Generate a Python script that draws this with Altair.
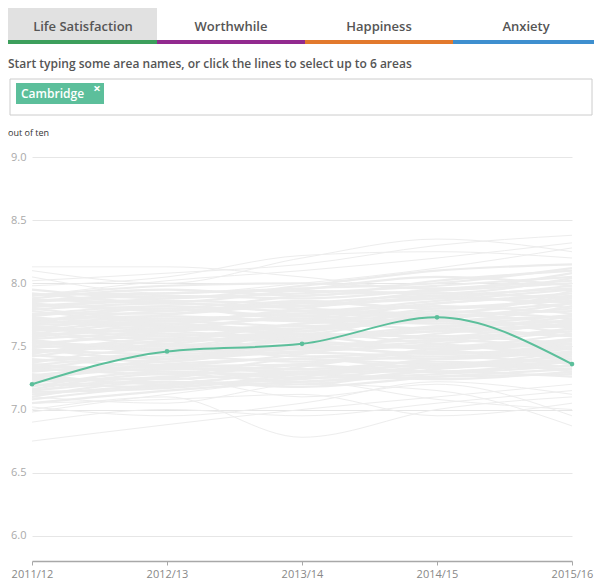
import altair as alt
import pandas as pd

years = ["2011/12", "2012/13", "2013/14", "2014/15", "2015/16"]
cambridge = [7.20, 7.46, 7.52, 7.73, 7.36]
y_ticks = [6.0, 6.5, 7.0, 7.5, 8.0, 8.5, 9.0]
tabs = ["Life Satisfaction", "Worthwhile", "Happiness", "Anxiety"]
tab_colors = ["#3d9f5c", "#922a8f", "#e2792d", "#3e8fcf"]

# areas inside the dense band
band_values = [
    [7.45, 7.52, 7.60, 7.58, 7.62], [7.62, 7.70, 7.66, 7.74, 7.78],
    [7.30, 7.38, 7.45, 7.42, 7.50], [7.55, 7.48, 7.56, 7.62, 7.58],
    [7.70, 7.78, 7.82, 7.88, 7.85], [7.80, 7.72, 7.76, 7.84, 7.92],
    [7.25, 7.32, 7.30, 7.40, 7.45], [7.38, 7.45, 7.50, 7.55, 7.48],
    [7.50, 7.60, 7.55, 7.65, 7.70], [7.65, 7.58, 7.68, 7.72, 7.80],
    [7.85, 7.90, 7.88, 7.95, 8.02], [7.92, 7.85, 7.95, 8.05, 7.98],
    [7.15, 7.25, 7.35, 7.30, 7.40], [7.20, 7.18, 7.28, 7.35, 7.32],
    [7.35, 7.42, 7.38, 7.48, 7.55], [7.42, 7.55, 7.62, 7.70, 7.65],
    [7.58, 7.65, 7.72, 7.68, 7.75], [7.75, 7.82, 7.78, 7.86, 7.95],
    [7.68, 7.75, 7.85, 7.80, 7.88], [7.10, 7.22, 7.20, 7.32, 7.38],
    [7.28, 7.20, 7.34, 7.45, 7.42], [7.48, 7.40, 7.52, 7.50, 7.60],
    [7.60, 7.68, 7.62, 7.78, 7.72], [7.72, 7.64, 7.74, 7.70, 7.82],
    [7.82, 7.88, 7.92, 7.98, 8.05], [7.88, 7.95, 7.90, 8.02, 8.10],
    [7.40, 7.35, 7.44, 7.58, 7.52], [7.52, 7.58, 7.48, 7.60, 7.68],
    [7.33, 7.28, 7.40, 7.36, 7.46], [7.64, 7.72, 7.70, 7.64, 7.74],
    [7.78, 7.70, 7.80, 7.92, 7.88], [7.18, 7.30, 7.25, 7.28, 7.35],
    [7.56, 7.62, 7.66, 7.56, 7.64], [7.46, 7.50, 7.42, 7.46, 7.56],
    [7.90, 7.98, 8.00, 7.96, 8.08], [7.95, 7.88, 7.98, 8.10, 8.15],
    [7.05, 7.15, 7.22, 7.26, 7.28], [7.22, 7.35, 7.32, 7.38, 7.30],
    [7.36, 7.30, 7.28, 7.34, 7.40], [7.66, 7.60, 7.58, 7.66, 7.70],
    [7.74, 7.80, 7.74, 7.82, 7.76], [7.84, 7.78, 7.86, 7.80, 7.90],
    [7.54, 7.46, 7.60, 7.52, 7.44], [7.44, 7.56, 7.54, 7.64, 7.58],
    [7.26, 7.40, 7.46, 7.52, 7.62], [7.60, 7.52, 7.50, 7.44, 7.52],
    [7.70, 7.66, 7.60, 7.75, 7.68], [7.32, 7.46, 7.58, 7.48, 7.54],
    [7.12, 7.20, 7.28, 7.24, 7.30], [7.16, 7.28, 7.22, 7.30, 7.26],
    [7.22, 7.26, 7.36, 7.42, 7.36], [7.27, 7.36, 7.40, 7.33, 7.44],
    [7.34, 7.33, 7.32, 7.40, 7.48], [7.39, 7.42, 7.46, 7.50, 7.42],
    [7.43, 7.38, 7.50, 7.44, 7.50], [7.49, 7.54, 7.58, 7.62, 7.66],
    [7.53, 7.50, 7.64, 7.70, 7.60], [7.57, 7.66, 7.60, 7.58, 7.72],
    [7.61, 7.56, 7.68, 7.76, 7.84], [7.67, 7.70, 7.76, 7.72, 7.66],
    [7.71, 7.74, 7.70, 7.80, 7.86], [7.76, 7.76, 7.84, 7.90, 7.80],
    [7.79, 7.84, 7.80, 7.76, 7.94], [7.83, 7.80, 7.90, 7.94, 8.00],
    [7.87, 7.84, 7.82, 7.90, 7.96], [7.91, 7.92, 7.96, 8.00, 8.12],
    [7.14, 7.17, 7.26, 7.36, 7.34], [7.24, 7.24, 7.30, 7.30, 7.38],
    [7.31, 7.34, 7.36, 7.46, 7.40], [7.37, 7.48, 7.42, 7.40, 7.46],
    [7.47, 7.44, 7.48, 7.54, 7.64], [7.51, 7.47, 7.54, 7.48, 7.52],
    [7.59, 7.63, 7.64, 7.70, 7.74], [7.63, 7.62, 7.56, 7.62, 7.68],
    [7.69, 7.80, 7.72, 7.84, 7.90], [7.73, 7.68, 7.78, 7.74, 7.84],
    [7.81, 7.86, 7.84, 7.88, 7.98], [7.86, 7.92, 7.94, 7.92, 8.04],
    [7.08, 7.19, 7.24, 7.34, 7.42], [7.19, 7.22, 7.18, 7.26, 7.32],
]

# areas outside the dense band
outlier_values = [
    [8.13, 8.13, 8.05, 7.95, 8.00], [8.10, 8.00, 8.20, 8.35, 8.25],
    [8.02, 8.08, 8.15, 8.30, 8.38], [7.98, 8.05, 8.22, 8.25, 8.20],
    [7.90, 8.02, 8.10, 8.20, 8.32], [8.05, 7.92, 8.00, 8.12, 8.28],
    [6.75, 6.88, 7.00, 7.10, 7.20], [6.90, 7.00, 6.95, 7.05, 7.15],
    [7.00, 7.10, 6.78, 7.00, 7.10], [7.05, 7.08, 7.12, 6.95, 7.05],
    [7.10, 7.05, 7.20, 7.15, 6.87], [7.15, 7.25, 7.10, 7.20, 6.95],
    [7.02, 6.95, 7.05, 7.22, 7.12], [6.98, 7.12, 7.22, 7.08, 7.00],
]


def long_form(series, prefix):
    rows = []
    for i, vals in enumerate(series):
        for yr, v in zip(years, vals):
            rows.append({"area": f"{prefix}{i}", "year": yr, "value": v})
    return pd.DataFrame(rows)


band = long_form(band_values, "b")
outl = long_form(outlier_values, "o")
cam = pd.DataFrame({"year": years, "value": cambridge})

FONT = "Open Sans"

x_enc = alt.X(
    "year:O", sort=years, scale=alt.Scale(padding=0),
    axis=alt.Axis(title=None, labelAngle=0, grid=False, domainColor="#a8a8a8",
                  domainWidth=1.5, tickColor="#a8a8a8", tickSize=4,
                  labelColor="#888", labelFontSize=11, labelFont=FONT,
                  labelPadding=3, labelOverlap=False),
)
y_enc = alt.Y(
    "value:Q", scale=alt.Scale(domain=[5.8, 9.0], nice=False, zero=False),
    axis=alt.Axis(title=None, values=y_ticks, format=".1f", domain=False,
                  ticks=False, grid=True, gridColor="#e6e6e6",
                  labelColor="#aaa", labelFontSize=11, labelFont=FONT,
                  labelPadding=6),
)

outl_layer = alt.Chart(outl).mark_line(interpolate="monotone", color="#ededed",
                                       strokeWidth=1).encode(
    x=x_enc, y=y_enc, detail="area:N")
band_layer = alt.Chart(band).mark_line(interpolate="monotone", color="#ececec",
                                       strokeWidth=2.2).encode(
    x="year:O", y="value:Q", detail="area:N")
cam_line = alt.Chart(cam).mark_line(interpolate="monotone", color="#5cbf9b",
                                    strokeWidth=2).encode(x="year:O", y="value:Q")
cam_pts = alt.Chart(cam).mark_point(filled=True, color="#5cbf9b", size=22,
                                    opacity=1).encode(x="year:O", y="value:Q")

one = alt.Data(values=[{}])


def rect(x1, x2, y1, y2, fill, stroke=None):
    kw = {"fill": fill}
    if stroke:
        kw["stroke"] = stroke
        kw["strokeWidth"] = 1
    return alt.Chart(one).mark_rect(**kw).encode(
        x=alt.value(x1), x2=alt.value(x2), y=alt.value(y1), y2=alt.value(y2))


def text(t, x, y, size, color, weight=400, align="left"):
    return alt.Chart(one).mark_text(
        text=t, align=align, baseline="middle", fontSize=size, color=color,
        fontWeight=weight, font=FONT).encode(x=alt.value(x), y=alt.value(y))


deco = []
deco.append(rect(-24, 125, -149, -117, "#e1e1e1"))
bar_edges = [-24, 125, 273, 421, 562]
for i, c in enumerate(tab_colors):
    deco.append(rect(bar_edges[i], bar_edges[i + 1], -117, -113, c))
tab_centers = [51, 199, 347, 494]
for t, cx in zip(tabs, tab_centers):
    deco.append(text(t, cx, -130, 13, "#555", 600, "center"))
deco.append(text("Start typing some area names, or click the lines to select up to 6 areas",
                 -24, -93, 12, "#555", 600))
deco.append(rect(-22, 560, -78, -42, "#ffffff", "#cccccc"))
deco.append(rect(-16, 72, -74, -53, "#5cbf9b"))
deco.append(text("Cambridge", -11, -63, 12, "#ffffff", 600))
deco.append(text("×", 65, -68, 13, "#ffffff", 700, "center"))
deco.append(text("out of ten", -24, -24, 9, "#333"))

chart = alt.layer(outl_layer, band_layer, cam_line, cam_pts, *deco).properties(
    width=540, height=404,
    autosize=alt.AutoSizeParams(type="none"),
    padding={"left": 24, "top": 149, "right": 22, "bottom": 22},
    background="white",
).configure_view(stroke=None)

chart.save("out.html", embed_options={"renderer": "svg", "actions": False})
